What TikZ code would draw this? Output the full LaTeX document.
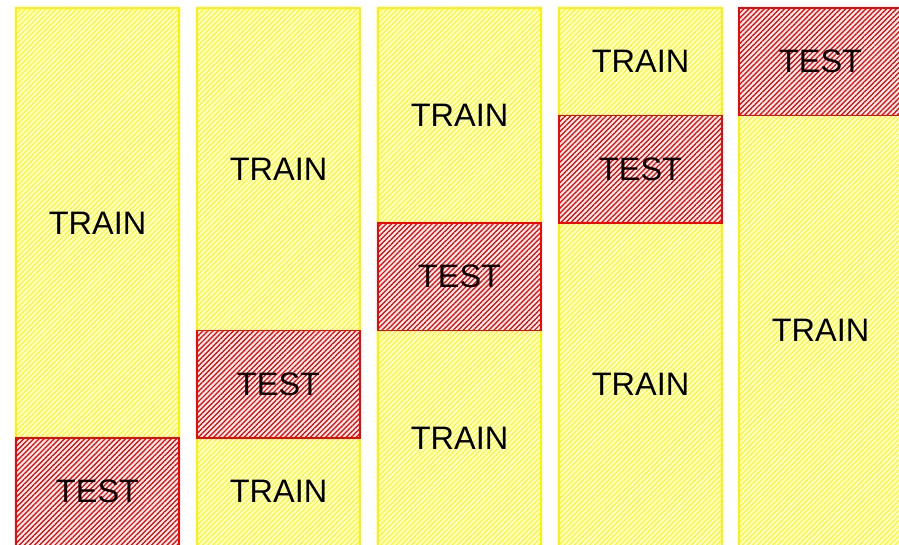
\documentclass[tikz,border=0pt]{standalone}
\usepackage{fontspec}
\setmainfont{Liberation Sans}
\usetikzlibrary{patterns.meta}
\tikzset{
  fold/.style={draw, line width=1.8pt, inner sep=0pt, minimum width=163pt,
    font=\fontsize{32.5}{32.5}\selectfont, text=black},
  trainbox/.style={fold, draw=yellow,
    pattern={Lines[angle=45,distance=3.6pt,line width=1.4pt]}, pattern color=yellow},
  testbox/.style={fold, draw=red,
    pattern={Lines[angle=45,distance=3.6pt,line width=1.4pt]}, pattern color=red},
}
\begin{document}
\begin{tikzpicture}[x=1pt,y=-1pt]
\useasboundingbox (0,0) rectangle (899,544);
\clip (0,0) rectangle (899,544);
% column 1
\node[trainbox, minimum height=430pt] (c1a) at (97.5,223) {TRAIN};
\node[testbox, minimum height=107.5pt] (c1t) at (97.5,491.75) {TEST};
% column 2
\node[trainbox, minimum height=322.5pt] (c2a) at (278.5,169.25) {TRAIN};
\node[trainbox, minimum height=107.5pt] (c2b) at (278.5,491.75) {TRAIN};
\node[testbox, minimum height=107.5pt] (c2t) at (278.5,384.25) {TEST};
% column 3
\node[trainbox, minimum height=215pt] (c3a) at (459.5,115.5) {TRAIN};
\node[trainbox, minimum height=215pt] (c3b) at (459.5,438) {TRAIN};
\node[testbox, minimum height=107.5pt] (c3t) at (459.5,276.75) {TEST};
% column 4
\node[trainbox, minimum height=107.5pt] (c4a) at (640.5,61.75) {TRAIN};
\node[trainbox, minimum height=322.5pt] (c4b) at (640.5,384.25) {TRAIN};
\node[testbox, minimum height=107.5pt] (c4t) at (640.5,169.25) {TEST};
% column 5
\node[trainbox, minimum height=430pt] (c5b) at (820.5,330.5) {TRAIN};
\node[testbox, minimum height=107.5pt] (c5t) at (820.5,61.75) {TEST};
\end{tikzpicture}
\end{document}
